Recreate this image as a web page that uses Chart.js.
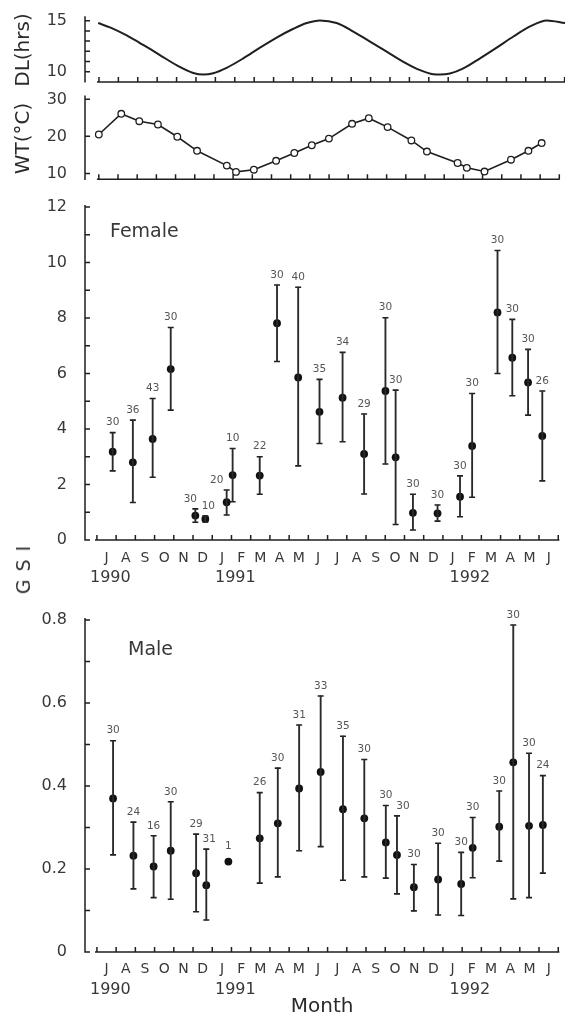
<!DOCTYPE html>
<html>
<head>
<meta charset="utf-8">
<script src="https://cdn.jsdelivr.net/npm/chart.js@4.4.0/dist/chart.umd.min.js"></script>
<style>
  html, body { margin: 0; padding: 0; background: #fff; overflow: hidden; }
  body { width: 565px; height: 1020px; position: relative; }
  canvas { position: absolute; left: 0; display: block; }
  #gsi {
    position: absolute; left: 23px; top: 566px;
    transform: translate(-50%, -50%) rotate(-90deg);
    font: 19px 'DejaVu Sans', sans-serif; letter-spacing: 8px; color: #333; white-space: nowrap;
  }
</style>
</head>
<body>
<canvas id="dlChart" width="565" height="92" style="top:0"></canvas>
<canvas id="wtChart" width="565" height="105" style="top:80px"></canvas>
<canvas id="femaleChart" width="565" height="400" style="top:185px"></canvas>
<canvas id="maleChart" width="565" height="420" style="top:600px"></canvas>
<div id="gsi">GSI</div>
<script>
// x values are months counted from 1 July 1990 (0) to 1 July 1992 (24)
const monthTicks = [0, 1, 2, 3, 4, 5, 6, 7, 8, 9, 10, 11, 12, 13, 14, 15, 16, 17, 18, 19, 20, 21, 22, 23, 24];
const monthLetters = ['J', 'A', 'S', 'O', 'N', 'D', 'J', 'F', 'M', 'A', 'M', 'J', 'J', 'A', 'S', 'O', 'N', 'D', 'J', 'F', 'M', 'A', 'M', 'J'];
const yearLabels = ['1990', '1991', '1992'];
const yearAt = [0.7, 7.2, 19.4];

// day length (hrs)
const dlMonth = [-0.04, 0.57, 1.43, 2.28, 3.14, 4.0, 4.86, 5.38, 5.89, 6.58, 7.44, 8.3, 9.16, 10.02, 10.71, 11.39, 12.25, 13.11, 13.97, 14.83, 15.69, 16.55, 17.23, 17.58, 18.09, 18.78, 19.64, 20.5, 21.36, 22.22, 23.08, 24.02];
const dlHours = [14.77, 14.34, 13.55, 12.62, 11.63, 10.64, 9.88, 9.72, 9.85, 10.38, 11.31, 12.36, 13.35, 14.21, 14.77, 15.03, 14.77, 13.94, 12.95, 11.96, 10.97, 10.15, 9.75, 9.72, 9.82, 10.32, 11.31, 12.36, 13.45, 14.44, 15.03, 14.77];
const dlTicks = [10, 11, 12, 13, 14, 15];
const dlTickText = ['10', '', '', '', '', '15'];

// water temperature (°C)
const wtMonth = [0.0, 1.17, 2.11, 3.08, 4.09, 5.12, 6.67, 7.15, 8.08, 9.24, 10.19, 11.1, 11.99, 13.2, 14.07, 15.05, 16.29, 17.1, 18.7, 19.18, 20.1, 21.48, 22.39, 23.08];
const wtTemp = [20.5, 26.1, 24.1, 23.2, 19.9, 16.1, 12.1, 10.4, 11.0, 13.4, 15.5, 17.6, 19.4, 23.4, 24.9, 22.5, 18.9, 15.9, 12.8, 11.5, 10.5, 13.7, 16.1, 18.2];
const wtTicks = [10, 20, 30];
const wtTickText = ['10', '20', '30'];

// female GSI: mean, error bar ends, sample size
const femaleMonth = [0.82, 1.87, 2.9, 3.84, 5.12, 5.64, 6.75, 7.06, 8.47, 9.37, 10.47, 11.58, 12.78, 13.9, 15.01, 15.54, 16.44, 17.72, 18.89, 19.52, 20.84, 21.61, 22.43, 23.17];
const femaleMean = [3.18, 2.80, 3.64, 6.16, 0.88, 0.76, 1.36, 2.34, 2.32, 7.81, 5.86, 4.62, 5.13, 3.10, 5.37, 2.98, 0.98, 0.96, 1.56, 3.39, 8.20, 6.57, 5.68, 3.75];
const femaleHigh = [3.87, 4.32, 5.10, 7.66, 1.12, 0.86, 1.80, 3.30, 3.00, 9.19, 9.11, 5.79, 6.76, 4.54, 8.01, 5.40, 1.65, 1.26, 2.31, 5.28, 10.43, 7.95, 6.87, 5.37];
const femaleLow = [2.49, 1.35, 2.26, 4.68, 0.64, 0.65, 0.90, 1.38, 1.65, 6.43, 2.67, 3.48, 3.54, 1.66, 2.74, 0.56, 0.36, 0.68, 0.84, 1.54, 6.00, 5.20, 4.50, 2.13];
const femaleN = [30, 36, 43, 30, 30, 10, 20, 10, 22, 30, 40, 35, 34, 29, 30, 30, 30, 30, 30, 30, 30, 30, 30, 26];
const femaleTicks = [0, 1, 2, 3, 4, 5, 6, 7, 8, 9, 10, 11, 12];
const femaleTickText = ['0', '', '2', '', '4', '', '6', '', '8', '', '10', '', '12'];

// male GSI
const maleMonth = [0.84, 1.9, 2.95, 3.84, 5.16, 5.69, 6.84, 8.47, 9.41, 10.52, 11.64, 12.8, 13.91, 15.03, 15.61, 16.49, 17.75, 18.95, 19.55, 20.93, 21.66, 22.48, 23.2];
const maleMean = [0.370, 0.232, 0.206, 0.244, 0.190, 0.161, 0.218, 0.274, 0.310, 0.394, 0.434, 0.344, 0.322, 0.264, 0.234, 0.156, 0.175, 0.164, 0.251, 0.302, 0.457, 0.304, 0.306];
const maleHigh = [0.509, 0.313, 0.280, 0.362, 0.284, 0.248, null, 0.384, 0.443, 0.547, 0.617, 0.520, 0.464, 0.353, 0.328, 0.211, 0.262, 0.240, 0.324, 0.388, 0.788, 0.479, 0.425];
const maleLow = [0.234, 0.152, 0.131, 0.127, 0.097, 0.077, null, 0.166, 0.181, 0.244, 0.254, 0.173, 0.181, 0.178, 0.140, 0.099, 0.089, 0.088, 0.179, 0.219, 0.128, 0.131, 0.190];
const maleN = [30, 24, 16, 30, 29, 31, 1, 26, 30, 31, 33, 35, 30, 30, 30, 30, 30, 30, 30, 30, 30, 30, 24];
const maleTicks = [0, 0.1, 0.2, 0.3, 0.4, 0.5, 0.6, 0.7, 0.8];
const maleTickText = ['0', '', '0.2', '', '0.4', '', '0.6', '', '0.8'];

const FONT = "'DejaVu Sans', sans-serif";
const INK = '#1f1f1f';
const TEXT = '#383838';
const Y_AXIS_WIDTH = 85;

// axis frame like the original: y axis line with inward ticks,
// x axis line starting just right of it, month ticks pointing up
function makeFrame(extra) {
  return {
    id: 'frame',
    beforeDatasetsDraw(chart) {
      const { ctx, chartArea } = chart;
      const xs = chart.scales.x, ys = chart.scales.y;
      ctx.save();
      ctx.strokeStyle = INK;
      ctx.lineWidth = 1.5;
      ctx.beginPath();
      ctx.moveTo(chartArea.left, chartArea.bottom + 0.7);
      ctx.lineTo(chartArea.left, chartArea.top - 2);
      ys.ticks.forEach(t => {
        const py = ys.getPixelForValue(t.value);
        ctx.moveTo(chartArea.left, py);
        ctx.lineTo(chartArea.left + 5, py);
      });
      const base = chartArea.bottom;
      ctx.moveTo(xs.getPixelForValue(-0.1), base);
      ctx.lineTo(chartArea.right, base);
      xs.ticks.forEach(t => {
        const px = xs.getPixelForValue(t.value);
        ctx.moveTo(px, base);
        ctx.lineTo(px, base - 5);
      });
      ctx.stroke();
      ctx.restore();
    },
    afterDatasetsDraw(chart) {
      if (!extra) return;
      const { ctx, chartArea } = chart;
      const xs = chart.scales.x, ys = chart.scales.y;
      ctx.save();
      ctx.fillStyle = TEXT;
      ctx.textBaseline = 'middle';
      ctx.textAlign = 'center';
      ctx.font = '16px ' + FONT;
      yearLabels.forEach((yr, i) => {
        ctx.fillText(yr, xs.getPixelForValue(yearAt[i]), chartArea.bottom + extra.yearGap);
      });
      ctx.textAlign = 'left';
      ctx.font = '19px ' + FONT;
      ctx.fillText(extra.label, chartArea.left + extra.labelDx, chartArea.top + extra.labelDy);
      // sample sizes above the bars
      ctx.textAlign = 'center';
      ctx.font = '10.5px ' + FONT;
      ctx.fillStyle = '#555';
      extra.counts.forEach((n, i) => {
        const py = extra.high[i] != null
          ? ys.getPixelForValue(extra.high[i]) - 10
          : ys.getPixelForValue(extra.mean[i]) - 15;
        const px = xs.getPixelForValue(extra.month[i]) + (extra.shift[i] || 0);
        ctx.fillText(String(n), px, py);
      });
      ctx.restore();
    }
  };
}

function xScale(min, max, height, withLabels, pad, title) {
  return {
    type: 'linear',
    min: min,
    max: max,
    offset: false,
    grid: { display: false, offset: false },
    border: { display: false },
    afterBuildTicks: s => { s.ticks = monthTicks.map(v => ({ value: v })); },
    afterFit: s => {
      s.height = height;
      s.paddingLeft = 0;
      s.paddingRight = 0;
    },
    ticks: {
      display: withLabels,
      autoSkip: false,
      maxRotation: 0,
      labelOffset: 9.7,
      padding: pad,
      color: TEXT,
      font: { family: FONT, size: 14 },
      callback: (v, i) => monthLetters[i] || ''
    },
    title: title
      ? { display: true, text: title, color: '#2b2b2b', font: { family: FONT, size: 20 }, padding: { top: 0, bottom: 1 } }
      : { display: false }
  };
}

function yScale(min, max, ticks, text, title) {
  return {
    min: min,
    max: max,
    grid: { display: false },
    border: { display: false },
    afterBuildTicks: s => { s.ticks = ticks.map(v => ({ value: v })); },
    afterFit: s => {
      s.width = Y_AXIS_WIDTH;
      s.paddingTop = 0;
      s.paddingBottom = 0;
    },
    ticks: {
      autoSkip: false,
      padding: 10,
      color: TEXT,
      font: { family: FONT, size: 16 },
      callback: (v, i) => text[i]
    },
    title: title
      ? { display: true, text: title, color: '#2b2b2b', font: { family: FONT, size: 20 }, padding: { top: 12 } }
      : { display: false }
  };
}

function baseOptions(padTop, scales) {
  return {
    responsive: false,
    animation: false,
    layout: { padding: { top: padTop, left: 0, right: 0, bottom: 0 } },
    plugins: { legend: { display: false }, tooltip: { enabled: false } },
    scales: scales
  };
}

// top panels: day length and water temperature
new Chart(document.getElementById('dlChart'), {
  type: 'line',
  data: {
    datasets: [{
      data: dlMonth.map((m, i) => ({ x: m, y: dlHours[i] })),
      borderColor: INK,
      borderWidth: 2,
      pointRadius: 0,
      cubicInterpolationMode: 'monotone'
    }]
  },
  options: baseOptions(18.15, {
    x: xScale(-0.72, 24.02, 10.1, false, 0),
    y: yScale(9.0, 15.25, dlTicks, dlTickText, 'DL(hrs)')
  }),
  plugins: [makeFrame(null)]
});

new Chart(document.getElementById('wtChart'), {
  type: 'line',
  data: {
    datasets: [{
      data: wtMonth.map((m, i) => ({ x: m, y: wtTemp[i] })),
      borderColor: INK,
      borderWidth: 1.6,
      pointRadius: 3.3,
      pointBackgroundColor: '#fff',
      pointBorderColor: INK,
      pointBorderWidth: 1.3,
      tension: 0
    }]
  },
  options: baseOptions(17.5, {
    x: xScale(-0.72, 24.02, 5.7, false, 0),
    y: yScale(8.4, 30.5, wtTicks, wtTickText, 'WT(°C)')
  }),
  plugins: [makeFrame(null)]
});

// GSI panels: mean with error bar, sample size on top
function gsiChart(id, d) {
  const bars = [];
  const caps = [];
  d.month.forEach((m, i) => {
    if (d.high[i] == null) return;
    bars.push({ x: m, y: [d.low[i], d.high[i]] });
    caps.push({ x: m, y: d.high[i] }, { x: m, y: d.low[i] });
  });
  return new Chart(document.getElementById(id), {
    type: 'scatter',
    data: {
      datasets: [
        { type: 'bar', data: bars, backgroundColor: '#2a2a2a', barThickness: 1.2, borderWidth: 0 },
        { data: caps, pointStyle: 'line', pointRadius: 3, pointBorderColor: INK, pointBorderWidth: 1.6 },
        { data: d.month.map((m, i) => ({ x: m, y: d.mean[i] })), pointStyle: 'circle', pointRadius: 3.9, pointBackgroundColor: '#111', pointBorderWidth: 0 }
      ]
    },
    options: baseOptions(d.padTop, {
      x: xScale(-0.62, 24.06, d.xHeight, true, d.xPad, d.xTitle),
      y: yScale(d.yMin, d.yMax, d.yTicks, d.yText, null)
    }),
    plugins: [makeFrame({
      label: d.label, labelDx: d.labelDx, labelDy: d.labelDy, yearGap: 38,
      month: d.month, mean: d.mean, high: d.high, counts: d.n, shift: d.shift
    })]
  });
}

gsiChart('femaleChart', {
  month: femaleMonth, mean: femaleMean, high: femaleHigh, low: femaleLow, n: femaleN,
  yMin: 0, yMax: 12, yTicks: femaleTicks, yText: femaleTickText,
  padTop: 22, xHeight: 45, xPad: 2, xTitle: null,
  label: 'Female', labelDx: 25, labelDy: 25,
  shift: { 4: -5, 5: 3, 6: -10 }
});

gsiChart('maleChart', {
  month: maleMonth, mean: maleMean, high: maleHigh, low: maleLow, n: maleN,
  yMin: 0, yMax: 0.8, yTicks: maleTicks, yText: maleTickText,
  padTop: 20, xHeight: 68, xPad: 1, xTitle: 'Month',
  label: 'Male', labelDx: 43, labelDy: 30,
  shift: { 5: 3, 14: 6 }
});
</script>
</body>
</html>
